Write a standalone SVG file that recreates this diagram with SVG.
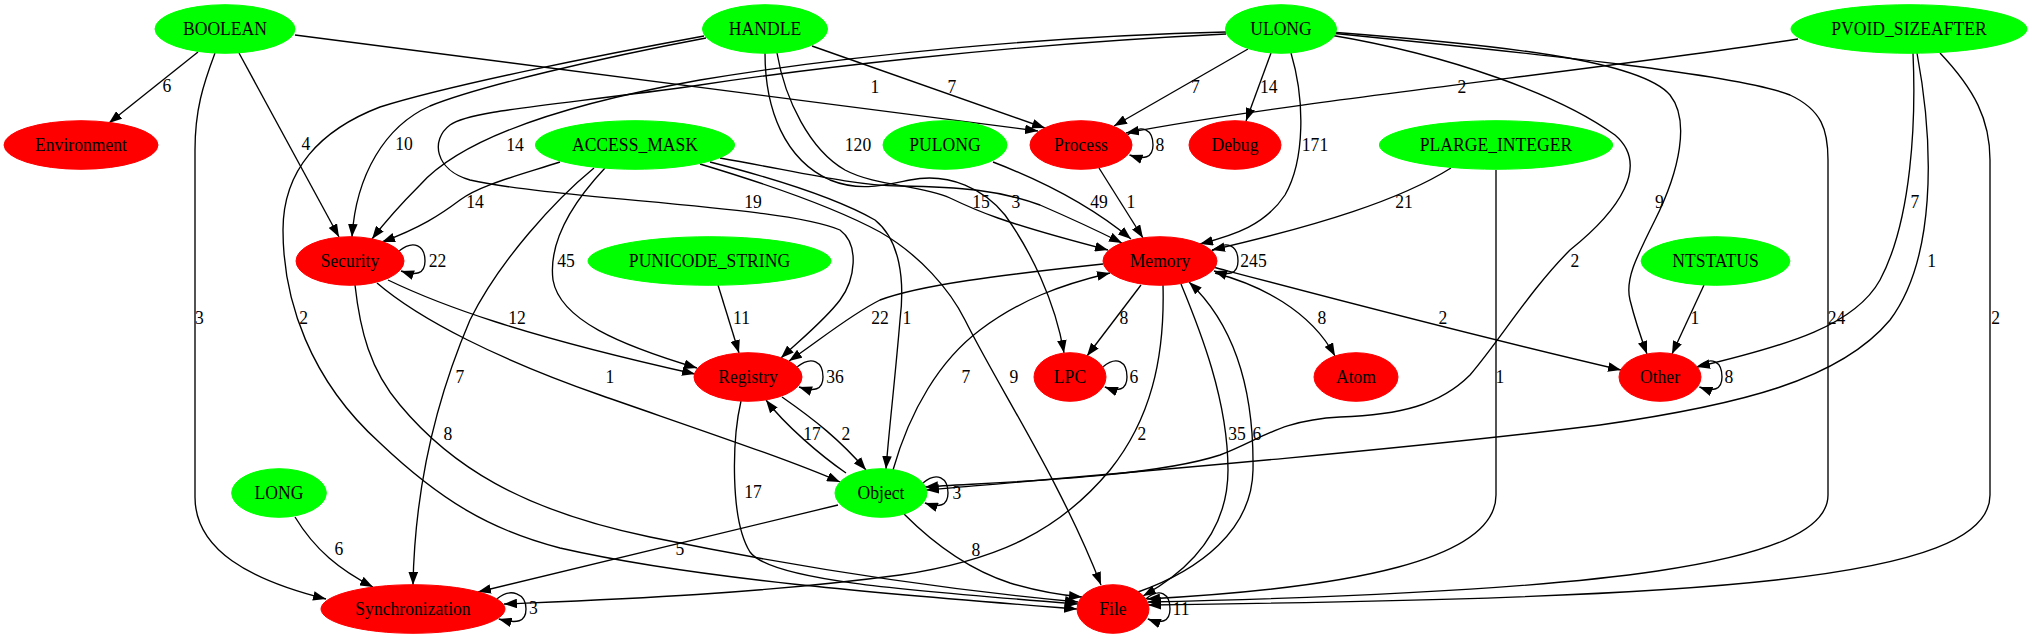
<svg xmlns="http://www.w3.org/2000/svg" width="2033" height="639" viewBox="0 0 2033 639">
<defs>
<marker id="ah" viewBox="0 0 13 9.6" refX="13" refY="4.8" markerWidth="13" markerHeight="9.6" markerUnits="userSpaceOnUse" orient="auto">
<path d="M0,0 L13,4.8 L0,9.6 z" fill="#000"/>
</marker>
</defs>
<style>
.g ellipse{fill:#00ff00;stroke:#00ff00}
.r ellipse{fill:#ff0000;stroke:#ff0000}
text{font-family:"Liberation Serif","Times New Roman",serif;font-size:17.6px;text-anchor:middle;fill:#000;transform-box:fill-box;transform-origin:center;transform:scaleY(1.07)}
#edges path{fill:none;stroke:#000;stroke-width:1.35;marker-end:url(#ah)}
</style>
<rect width="2033" height="639" fill="#fff"/>
<g id="edges">
<path d="M198,52 L109,123"/><text x="167" y="92">6</text>
<path d="M239,53 L339,237"/><text x="306" y="150">4</text>
<path d="M215,53 C203,85 195,110 195,150 L195,497 C195,550 250,580 326,599"/><text x="199.5" y="324">3</text>
<path d="M295,35 L1038,131"/><text x="875" y="93">1</text>
<path d="M812,46 L1045,128"/><text x="952" y="93">7</text>
<path d="M706,38 C600,58 480,86 430,106 C385,126 356,175 352,237"/><text x="404" y="150">10</text>
<path d="M704,36 C600,55 450,85 380,107 C320,130 283,170 283,230 C283,300 310,380 380,443 C440,500 490,530 560,548 C700,580 900,595 1077,609"/><text x="303.6" y="324">2</text>
<path d="M777,53 C785,100 810,150 845,170 C875,186 920,185 950,198 C975,210 1000,222 1108,250"/><text x="858" y="151">120</text>
<path d="M765,53 C765,110 785,160 830,180 C860,192 885,185 910,180 C950,172 985,190 1005,215 C1030,250 1055,300 1064,353"/><text x="1016" y="208">3</text>
<path d="M720,158 C800,172 850,185 900,186 C960,187 1000,190 1040,205 C1070,218 1100,232 1122,243"/><text x="981" y="208">15</text>
<path d="M700,164 C760,182 830,205 880,232 C920,255 950,290 965,320 C1000,390 1060,480 1101,585"/><text x="1014" y="383">9</text>
<path d="M710,162 C780,180 840,200 875,220 C900,240 905,280 900,320 C895,380 889,430 886,469"/><text x="907" y="324">1</text>
<path d="M560,162 C520,175 480,185 460,200 C440,215 420,228 382,242"/><text x="475" y="208">14</text>
<path d="M605,168 C575,200 548,240 553,280 C560,320 620,345 697,368"/><text x="566" y="267">45</text>
<path d="M594,168 C555,200 500,260 470,320 C440,390 415,480 413,585"/><text x="460" y="383">7</text>
<path d="M1226,32 C1050,36 850,55 700,80 C560,105 460,140 420,185 C400,205 385,222 372,239"/><text x="515" y="151">14</text>
<path d="M1226,34 C1000,45 800,70 700,85 C560,105 470,110 450,125 C430,140 435,170 470,180 C560,200 780,205 840,230 C860,245 855,280 840,300 C825,320 800,340 781,358"/><text x="753" y="208">19</text>
<path d="M1248,49 L1114,126"/><text x="1195.5" y="93">7</text>
<path d="M1271,53 L1246,121"/><text x="1268.7" y="93">14</text>
<path d="M1291,53 C1305,100 1305,160 1285,195 C1265,225 1235,235 1200,244"/><text x="1315" y="151">171</text>
<path d="M1330,35 C1450,55 1560,95 1615,135 C1650,165 1620,210 1570,250 C1530,290 1500,340 1470,375 C1440,405 1400,415 1340,417 C1280,420 1260,440 1220,455 C1150,478 1000,482 925,487"/><text x="1575" y="267">2</text>
<path d="M1330,32 C1500,45 1640,60 1670,95 C1690,120 1680,170 1655,220 C1635,260 1625,280 1630,300 C1635,320 1640,335 1647,354"/><text x="1659.5" y="208">9</text>
<path d="M1330,33 C1550,55 1740,75 1790,95 C1822,110 1828,130 1828,160 L1828,495 C1828,565 1600,592 1148,602"/><text x="1836.6" y="324">24</text>
<path d="M1798,39 C1600,70 1300,100 1126,133"/><text x="1462" y="93">2</text>
<path d="M1913,53 C1916,120 1912,220 1880,280 C1855,325 1790,345 1697,367"/><text x="1915" y="208">7</text>
<path d="M1917,53 C1935,150 1935,260 1890,320 C1840,380 1740,405 1600,425 C1400,450 1100,475 926,490"/><text x="1931.6" y="267">1</text>
<path d="M1940,53 C1975,90 1990,120 1990,160 L1990,495 C1990,582 1700,598 1148,605"/><text x="1995.7" y="324">2</text>
<path d="M1451,168 C1400,200 1320,225 1212,250"/><text x="1404" y="208">21</text>
<path d="M1496,170 L1496,495 C1496,560 1350,588 1147,599"/><text x="1500" y="383">1</text>
<path d="M1704,285 L1672,354"/><text x="1695" y="324">1</text>
<path d="M993,162 C1040,180 1090,205 1131,239"/><text x="1099" y="208">49</text>
<path d="M1099,168 L1143,238"/><text x="1131" y="208">1</text>
<path d="M718,285 L739,353"/><text x="741.5" y="324">11</text>
<path d="M1103,264 C1000,275 920,285 880,300 C850,315 820,340 789,361"/><text x="880" y="324">22</text>
<path d="M1141,285 L1087,356"/><text x="1124" y="324">8</text>
<path d="M1215,273 C1260,285 1310,310 1335,356"/><text x="1322" y="324">8</text>
<path d="M1213,267 C1300,290 1450,330 1621,370"/><text x="1443" y="324">2</text>
<path d="M1181,284 C1200,330 1228,400 1228,470 C1228,530 1190,570 1143,596"/><text x="1237" y="440">35</text>
<path d="M1138,592 C1200,570 1252,530 1253,470 C1254,400 1240,330 1189,282"/><text x="1257" y="440">6</text>
<path d="M1163,285 C1165,360 1150,420 1110,470 C1060,530 1000,560 900,575 C750,595 600,600 504,604"/><text x="1142" y="440">2</text>
<path d="M388,280 C440,305 520,335 695,374"/><text x="517" y="324">12</text>
<path d="M377,283 C420,320 500,360 600,395 C700,430 790,460 840,482"/><text x="610" y="383">1</text>
<path d="M355,285 C360,330 370,370 400,405 C450,465 520,510 650,537 C800,568 950,590 1078,602"/><text x="448" y="440">8</text>
<path d="M741,401 C732,440 730,520 750,552 C770,580 900,590 1078,604"/><text x="753" y="498">17</text>
<path d="M782,397 C815,420 840,440 866,470"/><text x="846" y="440">2</text>
<path d="M846,473 C820,455 785,425 766,400"/><text x="812" y="440">17</text>
<path d="M893,470 C910,410 940,360 980,330 C1020,300 1060,285 1110,273"/><text x="966" y="383">7</text>
<path d="M904,514 C935,545 970,570 1010,583 C1040,592 1060,595 1082,597"/><text x="976" y="556">8</text>
<path d="M838,505 L478,592"/><text x="680" y="555">5</text>
<path d="M295,517 C315,550 340,570 373,587"/><text x="339" y="555">6</text>
<path d="M1127.5,135 C1142,123 1153,130 1153,145 C1153,158 1144,160 1129.5,155"/><text x="1160" y="151">8</text>
<path d="M399,251 C414,239 425,246 425,261 C425,274 416,276 401,271"/><text x="437.5" y="267">22</text>
<path d="M1212,251 C1227,239 1238,246 1238,261 C1238,274 1229,276 1214,271"/><text x="1253.5" y="267">245</text>
<path d="M797,367 C812,355 823,362 823,377 C823,390 814,392 799,387"/><text x="835" y="383">36</text>
<path d="M1102.8,367 C1117,355 1127,362 1127,377 C1127,390 1118,392 1104.8,387"/><text x="1134" y="383">6</text>
<path d="M1697.4,367 C1712,355 1722,362 1722,377 C1722,390 1713,392 1699.4,387"/><text x="1729" y="383">8</text>
<path d="M922.9,483 C937,471 948,478 948,493 C948,506 939,508 924.9,503"/><text x="957" y="499">3</text>
<path d="M496.8,599 C511,587 526,594 526,609 C526,622 517,624 498.8,619"/><text x="533.5" y="614">3</text>
<path d="M1145.8,599 C1160,587 1170,594 1170,609 C1170,622 1161,624 1147.8,619"/><text x="1181" y="615">11</text>
</g>
<g id="BOOLEAN" class="g"><ellipse cx="225" cy="29" rx="70" ry="24.3"/><text x="225" y="35">BOOLEAN</text></g>
<g id="HANDLE" class="g"><ellipse cx="765" cy="29" rx="62.5" ry="24.3"/><text x="765" y="35">HANDLE</text></g>
<g id="ULONG" class="g"><ellipse cx="1281" cy="29" rx="55.5" ry="24.3"/><text x="1281" y="35">ULONG</text></g>
<g id="PVOID_SIZEAFTER" class="g"><ellipse cx="1909" cy="29" rx="118" ry="24.3"/><text x="1909" y="35">PVOID_SIZEAFTER</text></g>
<g id="Environment" class="r"><ellipse cx="81" cy="145" rx="77" ry="24.3"/><text x="81" y="151">Environment</text></g>
<g id="ACCESS_MASK" class="g"><ellipse cx="635" cy="145" rx="99.5" ry="24.3"/><text x="635" y="151">ACCESS_MASK</text></g>
<g id="PULONG" class="g"><ellipse cx="945" cy="145" rx="62" ry="24.3"/><text x="945" y="151">PULONG</text></g>
<g id="Process" class="r"><ellipse cx="1081" cy="145" rx="51" ry="24.3"/><text x="1081" y="151">Process</text></g>
<g id="Debug" class="r"><ellipse cx="1235" cy="145" rx="46" ry="24.3"/><text x="1235" y="151">Debug</text></g>
<g id="PLARGE_INTEGER" class="g"><ellipse cx="1496" cy="145" rx="116.6" ry="24.3"/><text x="1496" y="151">PLARGE_INTEGER</text></g>
<g id="Security" class="r"><ellipse cx="350" cy="261" rx="54" ry="24.3"/><text x="350" y="267">Security</text></g>
<g id="PUNICODE_STRING" class="g"><ellipse cx="709.5" cy="261" rx="121.5" ry="24.3"/><text x="709.5" y="267">PUNICODE_STRING</text></g>
<g id="Memory" class="r"><ellipse cx="1160" cy="261" rx="57" ry="24.3"/><text x="1160" y="267">Memory</text></g>
<g id="NTSTATUS" class="g"><ellipse cx="1715.5" cy="261" rx="74.4" ry="24.3"/><text x="1715.5" y="267">NTSTATUS</text></g>
<g id="Registry" class="r"><ellipse cx="748" cy="377" rx="54" ry="24.3"/><text x="748" y="383">Registry</text></g>
<g id="LPC" class="r"><ellipse cx="1070" cy="377" rx="36" ry="24.3"/><text x="1070" y="383">LPC</text></g>
<g id="Atom" class="r"><ellipse cx="1356" cy="377" rx="42" ry="24.3"/><text x="1356" y="383">Atom</text></g>
<g id="Other" class="r"><ellipse cx="1660" cy="377" rx="41" ry="24.3"/><text x="1660" y="383">Other</text></g>
<g id="LONG" class="g"><ellipse cx="279" cy="493" rx="47.3" ry="24.3"/><text x="279" y="499">LONG</text></g>
<g id="Object" class="g"><ellipse cx="881" cy="493" rx="46" ry="24.3"/><text x="881" y="499">Object</text></g>
<g id="Synchronization" class="r"><ellipse cx="413" cy="609" rx="92" ry="24.3"/><text x="413" y="615">Synchronization</text></g>
<g id="File" class="r"><ellipse cx="1113" cy="609" rx="36" ry="24.3"/><text x="1113" y="615">File</text></g>
</svg>
